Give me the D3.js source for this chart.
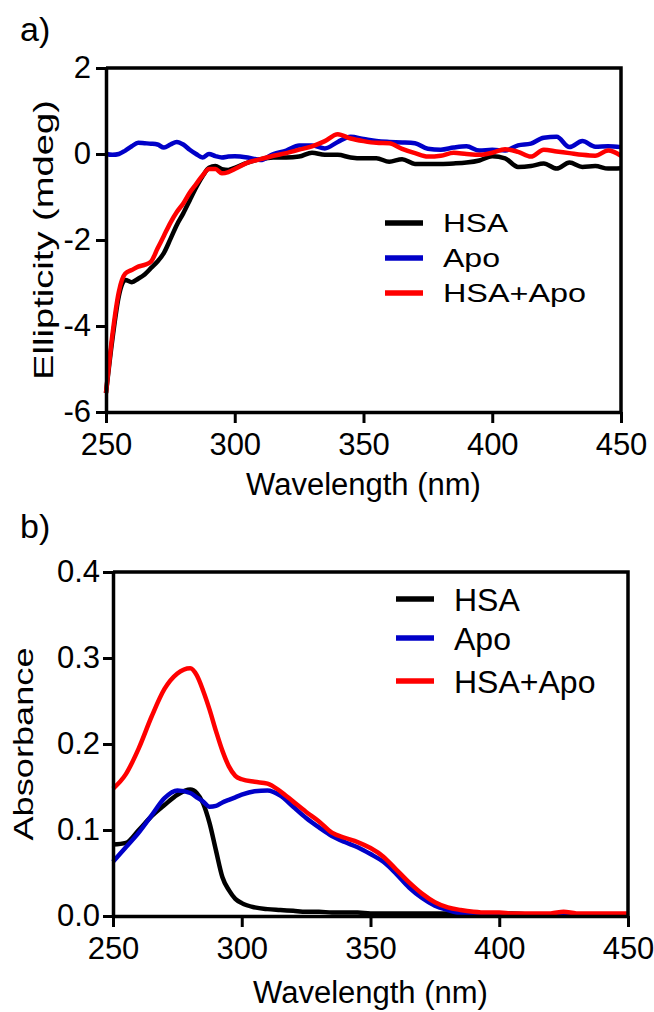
<!DOCTYPE html>
<html>
<head>
<meta charset="utf-8">
<script src="https://cdn.jsdelivr.net/npm/d3@7"></script>
<style>
  body { margin: 0; background: #fff; }
  svg text { font-family: "Liberation Sans", Arial, sans-serif; fill: #000; }
</style>
</head>
<body>
<svg id="fig" width="654" height="1012"></svg>
<script>
// Panel a) CD spectra (ellipticity, mdeg)
const cdWavelength = [250,252.5,255,257.5,260,262.5,265,267.5,270,272.5,275,277.5,280,282.5,285,287.5,290,292.5,295,297.5,300,
    305,310,315,320,325,330,335,340,345,350,355,360,365,370,375,380,385,390,395,400,405,410,415,420,425,430,435,440,445,450];
const cdHSA = [-5.56,-4.3,-3.3,-2.93,-2.98,-2.9,-2.8,-2.65,-2.5,-2.3,-1.98,-1.65,-1.38,-1.08,-0.78,-0.52,-0.32,-0.28,-0.35,-0.37,-0.32,
    -0.2,-0.12,-0.08,-0.08,-0.06,0.03,-0.02,-0.02,-0.08,-0.1,-0.1,-0.18,-0.12,-0.23,-0.23,-0.23,-0.22,-0.2,-0.15,-0.05,-0.1,-0.3,-0.28,-0.22,-0.34,-0.2,-0.3,-0.28,-0.34,-0.33];
const cdApo = [0.0,-0.02,0.0,0.08,0.18,0.26,0.25,0.24,0.22,0.15,0.22,0.28,0.22,0.1,0.0,-0.08,0.0,-0.05,-0.08,-0.06,-0.05,
    -0.08,-0.14,0.0,0.08,0.2,0.2,0.13,0.28,0.4,0.35,0.3,0.28,0.27,0.25,0.12,0.1,0.15,0.18,0.08,0.1,0.08,0.2,0.24,0.38,0.4,0.16,0.3,0.17,0.18,0.16];
const cdMix = [-5.56,-4.2,-3.2,-2.78,-2.7,-2.62,-2.58,-2.5,-2.2,-1.9,-1.6,-1.35,-1.15,-0.9,-0.7,-0.5,-0.35,-0.35,-0.45,-0.42,-0.35,
    -0.2,-0.12,-0.04,0.02,0.1,0.18,0.3,0.46,0.36,0.3,0.26,0.25,0.12,0.02,-0.06,-0.04,0.03,0.0,-0.02,0.03,0.11,0.05,-0.06,0.1,0.06,0.02,-0.02,-0.04,0.08,-0.04];
const cdYTicks = [-6, -4, -2, 0, 2];

// Panel b) UV-vis absorbance
const absWavelength = [250,255,260,265,270,275,280,282.5,285,287.5,290,292.5,295,297.5,300,
    305,310,315,320,325,330,335,340,345,350,355,360,365,370,375,380,385,390,395,400,405,410,415,420,425,430,435,440,445,450];
const absHSA = [0.083,0.085,0.100,0.116,0.129,0.141,0.147,0.143,0.131,0.108,0.076,0.045,0.030,0.020,0.015,
    0.010,0.008,0.007,0.006,0.005,0.005,0.004,0.004,0.004,0.003,0.003,0.003,0.003,0.003,0.003,0.003,0.003,0.003,0.003,0.003,0.003,0.002,0.002,0.002,0.002,0.002,0.002,0.002,0.002,0.002];
const absApo = [0.063,0.080,0.097,0.117,0.137,0.146,0.143,0.138,0.133,0.127,0.128,0.132,0.135,0.138,0.141,
    0.145,0.146,0.140,0.127,0.114,0.103,0.093,0.086,0.080,0.072,0.063,0.049,0.033,0.021,0.012,0.007,0.003,0.002,0.001,0.001,0.001,0.001,0.001,0.001,0.003,0.001,0.001,0.001,0.002,0.001];
const absMix = [0.148,0.165,0.195,0.232,0.264,0.282,0.288,0.280,0.262,0.240,0.215,0.192,0.174,0.163,0.159,
    0.156,0.154,0.145,0.133,0.121,0.110,0.097,0.091,0.086,0.079,0.069,0.054,0.039,0.026,0.016,0.010,0.007,0.005,0.004,0.004,0.003,0.003,0.003,0.003,0.005,0.003,0.003,0.003,0.003,0.003];
const absYTicks = [0, 0.1, 0.2, 0.3, 0.4];

const xTicks = [250, 300, 350, 400, 450];
const seriesNames = ["HSA", "Apo", "HSA+Apo"];
const seriesColors = ["#000000", "#0000c8", "#ff0000"];

const svg = d3.select("#fig");

function drawPanel(p) {
    let x = d3.scaleLinear().domain([250, 450]).range([p.left, p.right]);
    let y = d3.scaleLinear().domain(p.yDomain).range([p.bottom, p.top]);
    let g = svg.append("g");

    // data lines (black, blue, red on top)
    let line = d3.line()
        .x(d => x(d[0]))
        .y(d => y(d[1]))
        .curve(d3.curveMonotoneX);
    p.series.forEach((vals, i) => {
        g.append("path")
            .datum(p.wl.map((w, j) => [w, vals[j]]))
            .attr("fill", "none")
            .attr("stroke", seriesColors[i])
            .attr("stroke-width", 4.5)
            .attr("stroke-linejoin", "round")
            .attr("d", line);
    });

    // frame top + right
    g.append("path")
        .attr("d", `M${p.left},${p.top}H${p.right}V${p.bottom}`)
        .attr("fill", "none")
        .attr("stroke", "#000")
        .attr("stroke-width", 3.5);

    let xAxis = g.append("g")
        .attr("transform", `translate(0,${p.bottom})`)
        .call(d3.axisBottom(x).tickValues(xTicks).tickSize(11).tickSizeOuter(0).tickPadding(10));
    let yAxis = g.append("g")
        .attr("transform", `translate(${p.left},0)`)
        .call(d3.axisLeft(y).tickValues(p.yTicks).tickFormat(p.yFormat).tickSize(10).tickSizeOuter(0).tickPadding(p.yPad));
    [xAxis, yAxis].forEach(a => {
        a.select(".domain").attr("stroke-width", 3.5);
        a.selectAll(".tick line").attr("stroke-width", 3);
        a.selectAll(".tick text").attr("font-size", 31).attr("font-family", "Liberation Sans, Arial, sans-serif");
    });

    // axis titles
    g.append("text")
        .attr("x", (p.left + p.right) / 2)
        .attr("y", p.xTitleY)
        .attr("text-anchor", "middle")
        .attr("font-size", 31)
        .text("Wavelength (nm)");
    g.append("text")
        .attr("transform", `translate(${p.yTitleX},${(p.top + p.bottom) / 2}) rotate(-90)`)
        .attr("text-anchor", "middle")
        .attr("font-size", 28)
        .attr("textLength", p.yTitleLen)
        .attr("lengthAdjust", "spacingAndGlyphs")
        .text(p.yTitle);

    // panel letter
    g.append("text")
        .attr("x", 20).attr("y", p.letterY)
        .attr("font-size", 34)
        .text(p.letter);

    // legend
    let lg = g.append("g");
    seriesNames.forEach((name, i) => {
        let ly = p.legY[i];
        lg.append("line")
            .attr("x1", p.legX).attr("x2", p.legX + 38)
            .attr("y1", ly).attr("y2", ly)
            .attr("stroke", seriesColors[i])
            .attr("stroke-width", 5.5);
        let t = lg.append("text")
            .attr("x", p.legX + 58)
            .attr("y", ly + p.legFont * 0.36)
            .attr("font-size", p.legFont)
            .text(name);
        if (p.legLen) t.attr("textLength", p.legLen[i]).attr("lengthAdjust", "spacingAndGlyphs");
    });
}

drawPanel({
    letter: "a)", letterY: 41,
    left: 106, right: 621, top: 68, bottom: 412,
    yDomain: [-6, 2], yTicks: cdYTicks, yFormat: d => String(d), yPad: 5,
    wl: cdWavelength, series: [cdHSA, cdApo, cdMix],
    xTitleY: 495, yTitleX: 53, yTitle: "Ellipticity (mdeg)", yTitleLen: 280,
    legX: 385, legY: [223, 258, 293], legFont: 26, legLen: [65, 57, 143]
});

drawPanel({
    letter: "b)", letterY: 538,
    left: 113, right: 628, top: 572, bottom: 916,
    yDomain: [0, 0.4], yTicks: absYTicks, yFormat: d3.format(".1f"), yPad: 3,
    wl: absWavelength, series: [absHSA, absApo, absMix],
    xTitleY: 1003, yTitleX: 33, yTitle: "Absorbance", yTitleLen: 193,
    legX: 396, legY: [599, 638, 681], legFont: 32, legLen: null
});
</script>
</body>
</html>
